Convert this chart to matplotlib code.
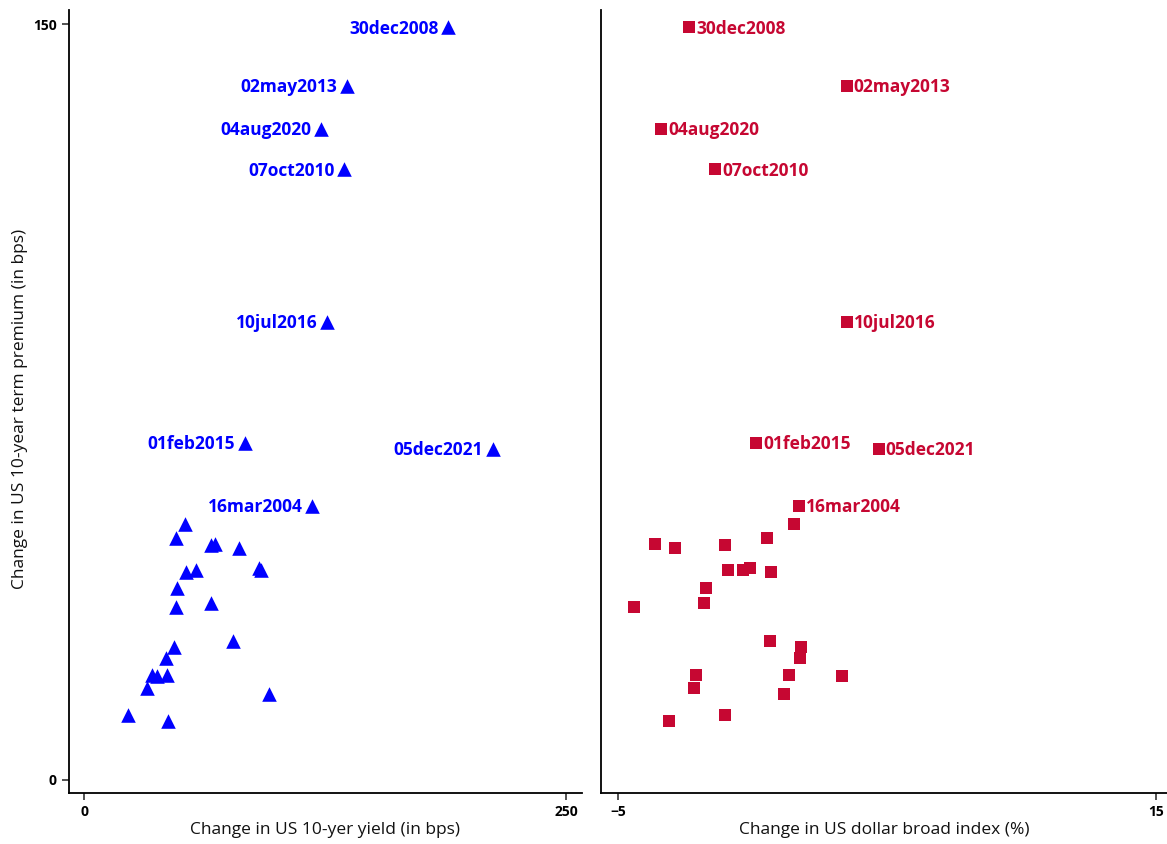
import matplotlib
matplotlib.use("Agg")
import matplotlib.pyplot as plt

plt.rcParams['font.family'] = ['Open Sans', 'DejaVu Sans']

# Episodes: change in 10-year term premium (bps), 10-year yield (bps), dollar index (%)
labels = ['30dec2008', '02may2013', '04aug2020', '07oct2010',
          '10jul2016', '01feb2015', '05dec2021', '16mar2004']
tp_lab = [149.4, 137.7, 129.2, 121.2, 90.9, 66.9, 65.7, 54.4]
yld_lab = [188.8, 136.4, 122.9, 134.9, 126.0, 83.5, 212.1, 118.3]
usd_lab = [-2.36, 3.51, -3.40, -1.39, 3.51, 0.13, 4.70, 1.73]

tp_other = [50.8, 48.0, 46.8, 46.6, 46.1, 42.1, 41.7, 41.7, 41.3, 38.0, 35.2,
            34.4, 27.6, 26.4, 24.1, 20.9, 20.9, 20.6, 18.3, 17.1, 12.9, 11.6]
yld_other = [52.5, 47.7, 67.9, 65.9, 80.4, 90.9, 91.6, 58.1, 52.9, 48.4, 66.0,
             47.7, 77.4, 46.7, 42.7, 35.4, 42.9, 38.0, 32.5, 96.0, 22.8, 43.6]
usd_other = [1.54, 0.53, -3.62, -1.02, -2.88, -0.10, -0.34, -0.91, 0.68, -1.73, -1.80,
             -4.42, 0.64, 1.79, 1.75, -2.11, 1.35, 3.33, -2.19, 1.16, -1.03, -3.10]

blue = '#0000ff'
red = '#c60732'

fig = plt.figure(figsize=(11.67, 8.44), dpi=100)
ax1 = fig.add_axes([69 / 1167, 51 / 844, 513 / 1167, 783 / 844])
ax2 = fig.add_axes([601 / 1167, 51 / 844, 566 / 1167, 783 / 844])

# left panel: term premium vs yield
ax1.scatter(yld_other + yld_lab, tp_other + tp_lab, marker='^', s=110,
            color=blue, linewidths=0, zorder=3)
for lab, x, y in zip(labels, yld_lab, tp_lab):
    ax1.annotate(lab, (x, y), xytext=(-7, -1), textcoords='offset points',
                 ha='right', va='center', color=blue, fontsize=12.5,
                 fontweight='bold')

# right panel: term premium vs dollar
ax2.scatter(usd_other + usd_lab, tp_other + tp_lab, marker='s', s=72,
            color=red, linewidths=0, zorder=3)
for lab, x, y in zip(labels, usd_lab, tp_lab):
    ax2.annotate(lab, (x, y), xytext=(5, -1), textcoords='offset points',
                 ha='left', va='center', color=red, fontsize=12.5,
                 fontweight='bold')

ax1.set_xlim(-7.8, 258.3)
ax2.set_xlim(-5.63, 15.41)
for ax in (ax1, ax2):
    ax.set_ylim(-2.6, 152.8)
    ax.spines['top'].set_visible(False)
    ax.spines['right'].set_visible(False)
    ax.spines['left'].set_linewidth(1.3)
    ax.spines['bottom'].set_linewidth(1.3)
    ax.tick_params(length=5, width=1.1, labelsize=10, pad=4, color='#222222')

ax1.set_xticks([0, 250])
ax1.set_yticks([0, 150])
ax2.set_xticks([-5, 15])
ax2.set_yticks([])
for t in ax1.get_xticklabels() + ax1.get_yticklabels() + ax2.get_xticklabels():
    t.set_fontweight('bold')

ax1.set_xlabel('Change in US 10-yer yield (in bps)', fontsize=12.5, labelpad=2,
               color='#111111')
ax2.set_xlabel('Change in US dollar broad index (%)', fontsize=12.5, labelpad=2,
               color='#111111')
ax1.set_ylabel('Change in US 10-year term premium (in bps)', fontsize=12.5,
               color='#111111')
ax1.yaxis.set_label_coords(-0.08, 0.49)

fig.savefig('out.png', dpi=100)
